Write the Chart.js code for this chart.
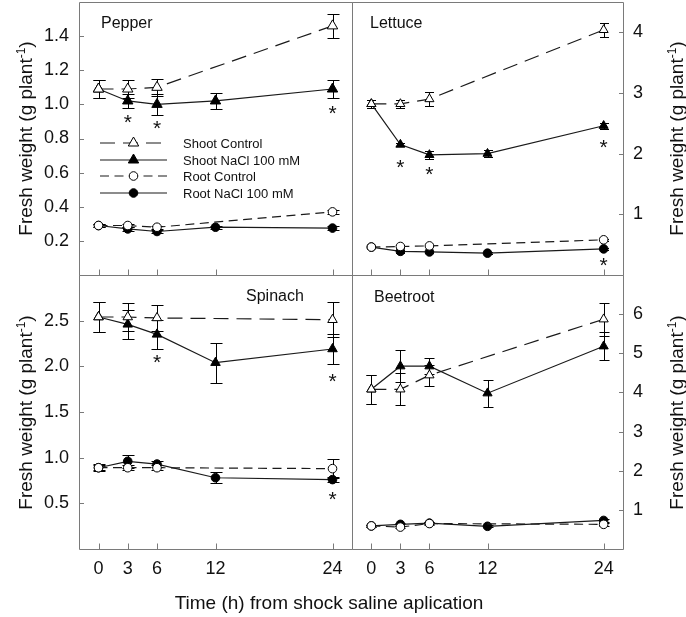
<!DOCTYPE html>
<html><head><meta charset="utf-8">
<script src="https://cdn.jsdelivr.net/npm/chart.js@4.4.1/dist/chart.umd.min.js"></script>
<style>
html,body{margin:0;padding:0;background:#fff;}
#wrap{position:relative;width:686px;height:617px;overflow:hidden;background:#fff;}
canvas{position:absolute;left:0;top:0;}
.yt{position:absolute;width:230px;height:19px;line-height:19px;font-size:19px;font-family:"Liberation Sans",Arial,sans-serif;color:#111;text-align:center;transform:rotate(-90deg);white-space:nowrap;}
.yt sup{font-size:12px;line-height:0;vertical-align:7px;}
</style></head><body>
<div id="wrap">
<canvas id="c1" width="686" height="617"></canvas>
<canvas id="c2" width="686" height="617"></canvas>
<canvas id="c3" width="686" height="617"></canvas>
<canvas id="c4" width="686" height="617"></canvas>
<div class="yt" style="left:-89.6px;top:129px">Fresh weight (g plant<sup>-1</sup>)</div>
<div class="yt" style="left:-89.6px;top:402.5px">Fresh weight (g plant<sup>-1</sup>)</div>
<div class="yt" style="left:561.4px;top:129px">Fresh weight (g plant<sup>-1</sup>)</div>
<div class="yt" style="left:561.4px;top:402.5px">Fresh weight (g plant<sup>-1</sup>)</div>
</div>
<script>
// ---- data ----
const timesControl = [0, 3, 6, 24];
const timesNaCl = [0, 3, 6, 12, 24];
const xTicks = [0, 3, 6, 12, 24];
const seriesNames = ['Shoot Control', 'Shoot NaCl 100 mM', 'Root Control', 'Root NaCl 100 mM'];

// Pepper
const pepperShootControl = [1.09, 1.09, 1.10, 1.46];
const pepperShootControlErr = [0.05, 0.05, 0.05, 0.07];
const pepperShootNaCl = [1.09, 1.02, 1.00, 1.02, 1.09];
const pepperShootNaClErr = [0.05, 0.04, 0.06, 0.045, 0.05];
const pepperRootControl = [0.29, 0.29, 0.28, 0.37];
const pepperRootControlErr = [0.01, 0.01, 0.01, 0.01];
const pepperRootNaCl = [0.29, 0.27, 0.255, 0.28, 0.275];
const pepperRootNaClErr = [0.01, 0.01, 0.01, 0.01, 0.01];
const pepperStars = [[3, 0.927], [6, 0.888], [24, 0.979]];
const pepperYTicks = [0.2, 0.4, 0.6, 0.8, 1.0, 1.2, 1.4];

// Lettuce
const lettuceShootControl = [2.82, 2.82, 2.90, 4.04];
const lettuceShootControlErr = [0.07, 0.07, 0.11, 0.12];
const lettuceShootNaCl = [2.82, 2.15, 1.98, 2.00, 2.46];
const lettuceShootNaClErr = [0.07, 0.03, 0.06, 0.06, 0.05];
const lettuceRootControl = [0.46, 0.47, 0.48, 0.58];
const lettuceRootControlErr = [0.02, 0.02, 0.02, 0.02];
const lettuceRootNaCl = [0.46, 0.39, 0.38, 0.36, 0.43];
const lettuceRootNaClErr = [0.02, 0.02, 0.02, 0.02, 0.02];
const lettuceStars = [[3, 1.86], [6, 1.75], [24, 2.20], [24, 0.255]];
const lettuceYTicks = [1, 2, 3, 4];

// Spinach
const spinachShootControl = [2.54, 2.54, 2.53, 2.51];
const spinachShootControlErr = [0.16, 0.15, 0.14, 0.19];
const spinachShootNaCl = [2.54, 2.46, 2.35, 2.04, 2.19];
const spinachShootNaClErr = [0.16, 0.16, 0.16, 0.22, 0.16];
const spinachRootControl = [0.89, 0.89, 0.89, 0.88];
const spinachRootControlErr = [0.03, 0.03, 0.03, 0.10];
const spinachRootNaCl = [0.89, 0.96, 0.93, 0.78, 0.76];
const spinachRootNaClErr = [0.04, 0.07, 0.03, 0.06, 0.03];
const spinachStars = [[6, 2.10], [24, 1.89], [24, 0.60]];
const spinachYTicks = [0.5, 1.0, 1.5, 2.0, 2.5];

// Beetroot
const beetShootControl = [4.08, 4.08, 4.44, 5.87];
const beetShootControlErr = [0.37, 0.41, 0.27, 0.42];
const beetShootNaCl = [4.08, 4.67, 4.67, 3.98, 5.18];
const beetShootNaClErr = [0.37, 0.41, 0.2, 0.35, 0.36];
const beetRootControl = [0.59, 0.56, 0.65, 0.63];
const beetRootControlErr = [0.03, 0.03, 0.03, 0.03];
const beetRootNaCl = [0.59, 0.63, 0.66, 0.58, 0.73];
const beetRootNaClErr = [0.03, 0.03, 0.03, 0.03, 0.03];
const beetStars = [];
const beetYTicks = [1, 2, 3, 4, 5, 6];

// ---- drawing ----
const FONT = '"Liberation Sans", Arial, sans-serif';
const FRAME = '#7a7a7a';
const LINE = '#1a1a1a';
const DASH_SHOOT = [15, 8];
const DASH_ROOT = [9, 5.5];
const W = 686, H = 617;

function zip(xs, ys) { return xs.map((x, i) => ({ x: x, y: ys[i] })); }

function drawMarker(ctx, style, x, y, r, fill) {
  ctx.save();
  ctx.setLineDash([]);
  ctx.lineWidth = 1;
  ctx.strokeStyle = '#000';
  ctx.fillStyle = fill;
  ctx.beginPath();
  if (style === 'triangle') {
    let rad = 0;
    ctx.moveTo(x + Math.sin(rad) * r, y - Math.cos(rad) * r);
    rad += 2 * Math.PI / 3;
    ctx.lineTo(x + Math.sin(rad) * r, y - Math.cos(rad) * r);
    rad += 2 * Math.PI / 3;
    ctx.lineTo(x + Math.sin(rad) * r, y - Math.cos(rad) * r);
    ctx.closePath();
  } else {
    ctx.arc(x, y, r, 0, Math.PI * 2);
  }
  ctx.fill();
  ctx.stroke();
  ctx.restore();
}

function zeroPad(s) { s.paddingTop = 0; s.paddingBottom = 0; s.paddingLeft = 0; s.paddingRight = 0; }

function makePanel(id, p) {
  const mk = (label, xs, ys, errs, dash, style, r, fill) => ({
    label: label, data: zip(xs, ys), err: errs,
    borderColor: LINE, borderWidth: 1.2, borderDash: dash,
    pointStyle: style, pointRadius: r, pointHoverRadius: r,
    pointBackgroundColor: fill, pointBorderColor: '#000', pointBorderWidth: 1,
    fill: false, tension: 0
  });
  const datasets = [
    mk(seriesNames[0], timesControl, p.sc, p.scE, DASH_SHOOT, 'triangle', p.tri, '#fff'),
    mk(seriesNames[1], timesNaCl, p.sn, p.snE, [], 'triangle', p.tri, '#000'),
    mk(seriesNames[2], timesControl, p.rc, p.rcE, DASH_ROOT, 'circle', 4.3, '#fff'),
    mk(seriesNames[3], timesNaCl, p.rn, p.rnE, [], 'circle', 4.3, '#000')
  ];
  const plugin = {
    id: 'extras' + id,
    beforeDatasetsDraw(chart) {
      const ctx = chart.ctx, xs = chart.scales.x, ys = chart.scales.y;
      ctx.save();
      ctx.strokeStyle = '#000'; ctx.lineWidth = 1;
      chart.data.datasets.forEach(d => {
        d.data.forEach((pt, i) => {
          const e = d.err[i];
          if (!e) return;
          const x = Math.round(xs.getPixelForValue(pt.x)) + 0.5;
          const y1 = Math.round(ys.getPixelForValue(pt.y + e)) + 0.5;
          const y2 = Math.round(ys.getPixelForValue(pt.y - e)) + 0.5;
          ctx.beginPath();
          ctx.moveTo(x, y1); ctx.lineTo(x, y2);
          ctx.moveTo(x - p.cap, y1); ctx.lineTo(x + p.cap, y1);
          ctx.moveTo(x - p.cap, y2); ctx.lineTo(x + p.cap, y2);
          ctx.stroke();
        });
      });
      ctx.restore();
    },
    afterDatasetsDraw(chart) {
      const ctx = chart.ctx, xs = chart.scales.x, ys = chart.scales.y;
      ctx.save();
      ctx.fillStyle = '#111';
      ctx.font = '21px ' + FONT;
      ctx.textAlign = 'center';
      ctx.textBaseline = 'alphabetic';
      p.stars.forEach(s => {
        ctx.fillText('*', xs.getPixelForValue(s[0]), ys.getPixelForValue(s[1]) + 12);
      });
      ctx.restore();
    },
    afterDraw(chart) {
      const ctx = chart.ctx, a = chart.chartArea, xs = chart.scales.x, ys = chart.scales.y;
      ctx.save();
      ctx.strokeStyle = FRAME; ctx.lineWidth = 1;
      const L = Math.round(a.left) + 0.5, T = Math.round(a.top) + 0.5;
      const R = Math.round(a.right) + 0.5, B = Math.round(a.bottom) + 0.5;
      ctx.beginPath();
      ctx.rect(L, T, R - L, B - T);
      xTicks.forEach(v => {
        const x = Math.round(xs.getPixelForValue(v)) + 0.5;
        ctx.moveTo(x, B); ctx.lineTo(x, B - 6);
      });
      p.yTicks.forEach(v => {
        const y = Math.round(ys.getPixelForValue(v)) + 0.5;
        if (p.side === 'left') { ctx.moveTo(L, y); ctx.lineTo(L + 4.5, y); }
        else { ctx.moveTo(R, y); ctx.lineTo(R - 4.5, y); }
      });
      ctx.stroke();
      // panel title
      ctx.fillStyle = '#111';
      ctx.font = '16px ' + FONT;
      ctx.textAlign = 'left'; ctx.textBaseline = 'alphabetic';
      ctx.fillText(p.title, p.tx, p.ty);
      if (p.legend) {
        const rows = [143, 160, 176, 193];
        const styles = [['triangle', '#fff', DASH_SHOOT], ['triangle', '#000', []], ['circle', '#fff', DASH_ROOT], ['circle', '#000', []]];
        rows.forEach((yy, i) => {
          ctx.save();
          ctx.strokeStyle = LINE; ctx.lineWidth = 1.2;
          ctx.setLineDash(styles[i][2]);
          ctx.beginPath(); ctx.moveTo(100, yy); ctx.lineTo(167, yy); ctx.stroke();
          ctx.restore();
          drawMarker(ctx, styles[i][0], 133.5, yy, styles[i][0] === 'triangle' ? p.tri : 4.3, styles[i][1]);
          ctx.fillStyle = '#111';
          ctx.font = '13px ' + FONT;
          ctx.textAlign = 'left';
          ctx.fillText(seriesNames[i], 183, yy + 4.7);
        });
      }
      if (p.xTitle) {
        ctx.fillStyle = '#111';
        ctx.font = '19px ' + FONT;
        ctx.textAlign = 'center';
        ctx.fillText('Time (h) from shock saline aplication', 329, 609);
      }
      ctx.restore();
    }
  };
  const left = p.side === 'left';
  return new Chart(document.getElementById(id), {
    type: 'line',
    data: { datasets: datasets },
    options: {
      responsive: false, animation: false, events: [],
      devicePixelRatio: 1,
      layout: { autoPadding: false, padding: { left: left ? 0 : 352, right: left ? 334 : 0, top: p.top, bottom: 0 } },
      plugins: { legend: { display: false }, tooltip: { enabled: false } },
      scales: {
        x: {
          type: 'linear', position: 'bottom', min: -2, max: 26,
          grid: { display: false, drawTicks: false }, border: { display: false },
          afterBuildTicks: s => { s.ticks = xTicks.map(v => ({ value: v })); },
          afterFit: s => { s.height = H - p.bottom; zeroPad(s); },
          ticks: { display: p.showX, padding: 9, color: '#111', font: { size: 18, family: FONT }, maxRotation: 0, autoSkip: false }
        },
        y: {
          type: 'linear', position: p.side, min: p.ymin, max: p.ymax,
          grid: { display: false, drawTicks: false }, border: { display: false },
          afterBuildTicks: s => { s.ticks = p.yTicks.map(v => ({ value: v })); },
          afterFit: s => { s.width = left ? 79 : 63; zeroPad(s); },
          ticks: { padding: 10, color: '#111', font: { size: 18, family: FONT }, callback: v => p.dec ? Number(v).toFixed(1) : String(v) }
        }
      }
    },
    plugins: [plugin]
  });
}

makePanel('c1', {
  side: 'left', top: 2, bottom: 275, ymin: 0, ymax: 1.6, yTicks: pepperYTicks, dec: true, showX: false,
  sc: pepperShootControl, scE: pepperShootControlErr, sn: pepperShootNaCl, snE: pepperShootNaClErr,
  rc: pepperRootControl, rcE: pepperRootControlErr, rn: pepperRootNaCl, rnE: pepperRootNaClErr,
  stars: pepperStars, tri: 6, cap: 6, title: 'Pepper', tx: 101, ty: 28, legend: true
});
makePanel('c2', {
  side: 'right', top: 2, bottom: 275, ymin: 0, ymax: 4.5, yTicks: lettuceYTicks, dec: false, showX: false,
  sc: lettuceShootControl, scE: lettuceShootControlErr, sn: lettuceShootNaCl, snE: lettuceShootNaClErr,
  rc: lettuceRootControl, rcE: lettuceRootControlErr, rn: lettuceRootNaCl, rnE: lettuceRootNaClErr,
  stars: lettuceStars, tri: 5.2, cap: 4.5, title: 'Lettuce', tx: 370, ty: 28
});
makePanel('c3', {
  side: 'left', top: 275, bottom: 549, ymin: 0, ymax: 3, yTicks: spinachYTicks, dec: true, showX: true,
  sc: spinachShootControl, scE: spinachShootControlErr, sn: spinachShootNaCl, snE: spinachShootNaClErr,
  rc: spinachRootControl, rcE: spinachRootControlErr, rn: spinachRootNaCl, rnE: spinachRootNaClErr,
  stars: spinachStars, tri: 5.5, cap: 6, title: 'Spinach', tx: 246, ty: 301, xTitle: true
});
makePanel('c4', {
  side: 'right', top: 275, bottom: 549, ymin: 0, ymax: 7, yTicks: beetYTicks, dec: false, showX: true,
  sc: beetShootControl, scE: beetShootControlErr, sn: beetShootNaCl, snE: beetShootNaClErr,
  rc: beetRootControl, rcE: beetRootControlErr, rn: beetRootNaCl, rnE: beetRootNaClErr,
  stars: beetStars, tri: 5.3, cap: 5, title: 'Beetroot', tx: 374, ty: 302
});
</script>
</body></html>
